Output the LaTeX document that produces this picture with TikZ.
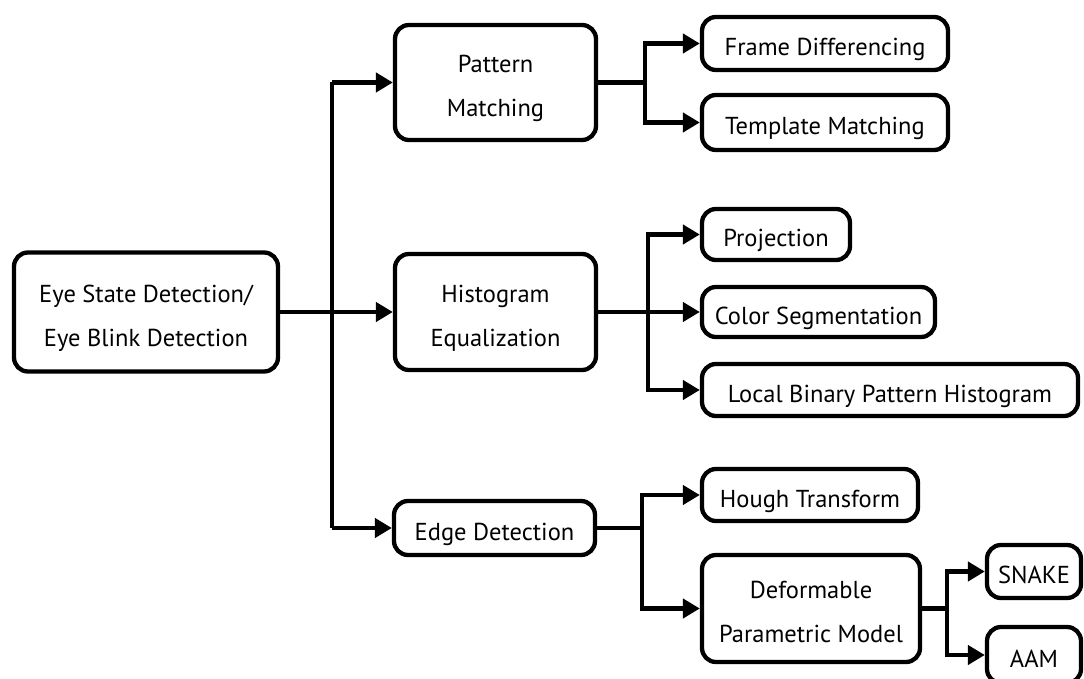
\documentclass[tikz,border=0pt]{standalone}
\usepackage{fontspec}
\setmainfont{PT Sans}
\usetikzlibrary{arrows.meta}

% box label: centred rows, ink lowered slightly without changing the box size
\newcommand{\lbl}[1]{\raisebox{-3.5pt}[\height][\depth]{\begin{tabular}{@{}c@{}}#1\end{tabular}}}

\begin{document}
\begin{tikzpicture}[x=1pt,y=-1pt,
  box/.style={draw, line width=4.3pt, rounded corners=14pt, align=center,
    font=\fontsize{24.5}{44}\selectfont, inner sep=0pt},
  arr/.style={line width=4.3pt, -{Triangle[length=17pt,width=19pt]}},
  ln/.style={line width=4.3pt}]
\useasboundingbox (0,0) rectangle (1084,679);

% root
\node[box, minimum width=264pt, minimum height=119pt] (root) at (146,312)
  {\lbl{Eye State Detection/\\Eye Blink Detection}};

% first level
\node[box, minimum width=201pt, minimum height=115pt] (pm) at (495.5,82.5) {\lbl{Pattern\\Matching}};
\node[box, minimum width=201pt, minimum height=116pt] (he) at (495.5,312) {\lbl{Histogram\\Equalization}};
\node[box, minimum width=201pt, minimum height=54pt] (ed) at (494.5,528) {\lbl{Edge Detection}};

% second level
\node[box, minimum width=246pt, minimum height=53pt] (fd) at (825,43.5) {\lbl{Frame Differencing}};
\node[box, minimum width=246pt, minimum height=55pt] (tm) at (825,122.5) {\lbl{Template Matching}};
\node[box, minimum width=148pt, minimum height=51pt] (pr) at (776,234.5) {\lbl{Projection}};
\node[box, minimum width=233pt, minimum height=50pt] (cs) at (818.5,312) {\lbl{Color Segmentation}};
\node[box, minimum width=376pt, minimum height=52pt] (lbp) at (890,390) {\lbl{Local Binary Pattern Histogram}};
\node[box, minimum width=216pt, minimum height=52pt] (ht) at (810,495) {\lbl{Hough Transform}};
\node[box, minimum width=218pt, minimum height=107pt] (dpm) at (811,608.5) {\lbl{Deformable\\Parametric Model}};

% third level
\node[box, minimum width=94pt, minimum height=53pt] (sn) at (1034,571.5) {\lbl{SNAKE}};
\node[box, minimum width=94pt, minimum height=56pt] (aam) at (1034,655) {\lbl{AAM}};

% branch columns
\coordinate (c0) at (332,0);
\coordinate (c1) at (645,0);
\coordinate (c2) at (648,0);
\coordinate (c3) at (642,0);
\coordinate (c4) at (947,0);

% root to first level
\draw[arr] (root.east) -- (he.west);
\draw[ln] (c0 |- pm) -- (c0 |- ed);
\draw[arr] (c0 |- pm) -- (pm.west);
\draw[arr] (c0 |- ed) -- (ed.west);

% pattern matching
\draw[ln] (pm.east) -- (c1 |- pm);
\draw[arr] (c1 |- tm) -- (c1 |- fd) -- (fd.west);
\draw[arr] (c1 |- fd) -- (c1 |- tm) -- (tm.west);

% histogram equalization
\draw[arr] (he.east) -- (cs.west);
\draw[arr] (c2 |- lbp) -- (c2 |- pr) -- (pr.west);
\draw[arr] (c2 |- pr) -- (c2 |- lbp) -- (lbp.west);

% edge detection
\draw[ln] (ed.east) -- (c3 |- ed);
\draw[arr] (c3 |- dpm) -- (c3 |- ht) -- (ht.west);
\draw[arr] (c3 |- ht) -- (c3 |- dpm) -- (dpm.west);

% deformable parametric model
\draw[ln] (dpm.east) -- (c4 |- dpm);
\draw[arr] (c4 |- aam) -- (c4 |- sn) -- (sn.west);
\draw[arr] (c4 |- sn) -- (c4 |- aam) -- (aam.west);
\end{tikzpicture}
\end{document}
